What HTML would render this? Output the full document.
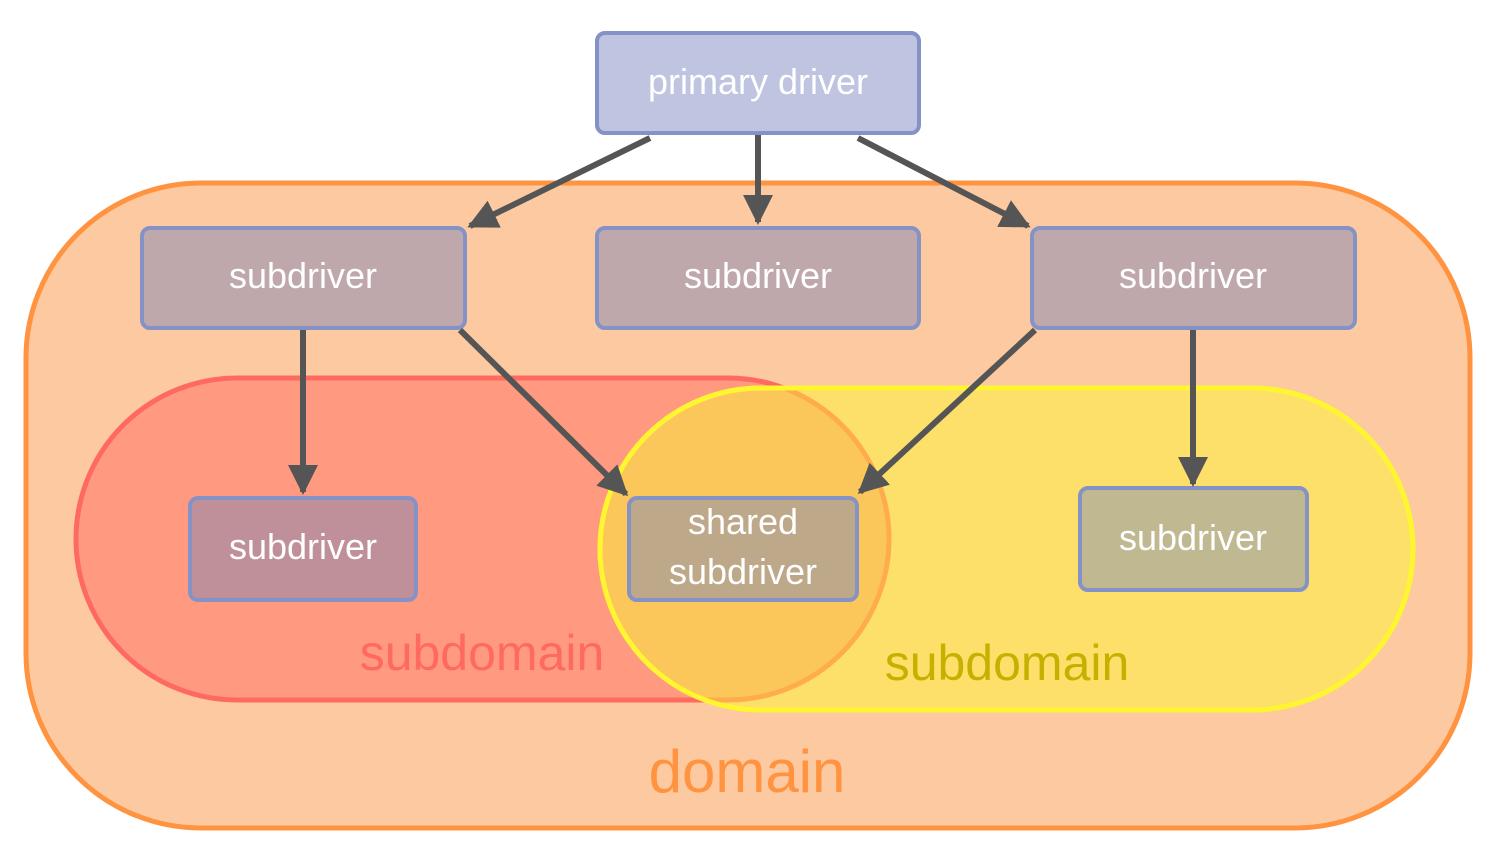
<!DOCTYPE html>
<html><head><meta charset="utf-8"><style>
html,body{margin:0;padding:0;background:#fff;}
svg{display:block;}
text{font-family:"Liberation Sans",sans-serif;}
</style></head><body>
<svg width="1497" height="855" viewBox="0 0 1497 855" xmlns="http://www.w3.org/2000/svg">
<defs>
<marker id="ah" markerWidth="5" markerHeight="5" refX="4.5" refY="2.5" orient="auto" markerUnits="strokeWidth">
<path d="M0,0 L5,2.5 L0,5 Z" fill="#555"/>
</marker>
<clipPath id="cy"><rect x="600" y="388" width="813" height="322" rx="161"/></clipPath>
</defs>
<rect x="26" y="183" width="1444" height="645" rx="175" fill="#fdc9a0" stroke="#ff9340" stroke-width="5"/>
<rect x="76" y="378" width="813" height="322" rx="161" fill="#ff9a80" stroke="#ff6a60" stroke-width="5"/>
<rect x="600" y="388" width="813" height="322" rx="161" fill="#fde06a" stroke="#fff530" stroke-width="5"/>
<g clip-path="url(#cy)">
<rect x="76" y="378" width="813" height="322" rx="161" fill="#fcc75a" stroke="#ffac4c" stroke-width="5"/>
</g>
<rect x="600" y="388" width="813" height="322" rx="161" fill="none" stroke="#fff530" stroke-width="5"/>
<text x="482" y="670" font-size="50" fill="#ff6a60" text-anchor="middle">subdomain</text>
<text x="1007" y="680" font-size="50" fill="#c8b000" text-anchor="middle">subdomain</text>
<text x="747" y="792" font-size="60" fill="#ff9340" text-anchor="middle">domain</text>
<g stroke="#8592c6" stroke-width="4">
<rect x="597" y="33" width="322" height="100" rx="8" fill="#bfc5e0"/>
<rect x="142" y="228" width="323" height="100" rx="8" fill="#bfa8ac"/>
<rect x="597" y="228" width="322" height="100" rx="8" fill="#bfa8ac"/>
<rect x="1032" y="228" width="323" height="100" rx="8" fill="#bfa8ac"/>
<rect x="190" y="498" width="226" height="102" rx="8" fill="#c0909a"/>
<rect x="629" y="498" width="228" height="102" rx="8" fill="#bea88a"/>
<rect x="1080" y="488" width="227" height="102" rx="8" fill="#bfb890"/>
</g>
<g fill="#fff" font-size="36" text-anchor="middle">
<text x="758" y="94">primary driver</text>
<text x="303" y="288">subdriver</text>
<text x="758" y="288">subdriver</text>
<text x="1193" y="288">subdriver</text>
<text x="303" y="559">subdriver</text>
<text x="743" y="534">shared</text>
<text x="743" y="584">subdriver</text>
<text x="1193" y="550">subdriver</text>
</g>
<g stroke="#555" stroke-width="6" marker-end="url(#ah)">
<line x1="650" y1="138" x2="470" y2="226"/>
<line x1="758" y1="135" x2="758" y2="222"/>
<line x1="858" y1="138" x2="1028" y2="226"/>
<line x1="303" y1="330" x2="303" y2="492"/>
<line x1="460" y1="330" x2="626" y2="494"/>
<line x1="1035" y1="330" x2="860" y2="492"/>
<line x1="1193" y1="330" x2="1193" y2="484"/>
</g>
</svg>
</body></html>
